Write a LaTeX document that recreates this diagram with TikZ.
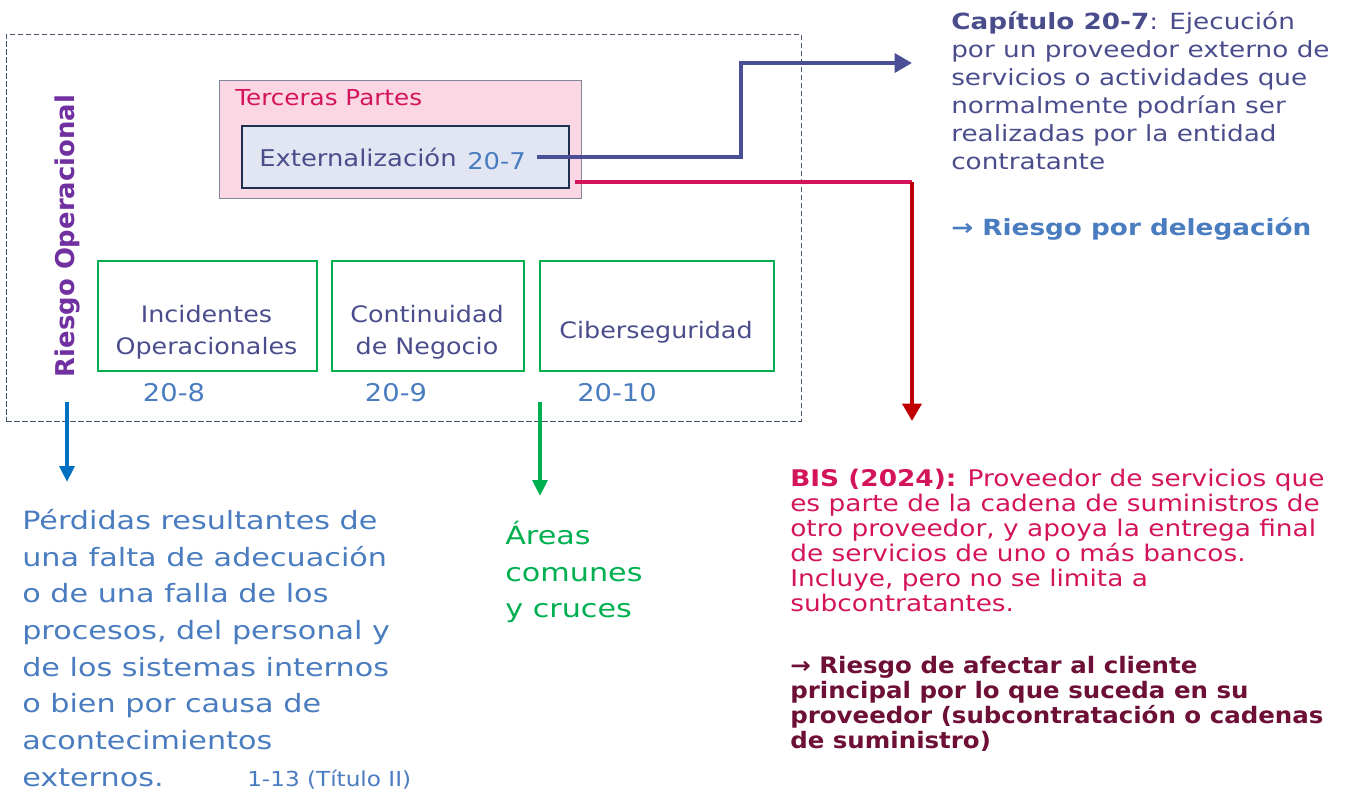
\documentclass[tikz,border=0pt]{standalone}
\usepackage{fontspec}
\setmainfont{DejaVu Sans}
\newfontfamily\fTR[FakeStretch=1.18]{DejaVu Sans}
\newfontfamily\fLeft[FakeStretch=1.2]{DejaVu Sans}
\newfontfamily\fBis[FakeStretch=1.15]{DejaVu Sans}
\newfontfamily\fMar[FakeStretch=1.08]{DejaVu Sans}
\newfontfamily\fBox[FakeStretch=1.12]{DejaVu Sans}
\usetikzlibrary{arrows.meta}
\definecolor{dashc}{HTML}{44546A}
\definecolor{pinkfill}{HTML}{FBD7E4}
\definecolor{pinkborder}{HTML}{7F8699}
\definecolor{crimson}{HTML}{D4145A}
\definecolor{extfill}{HTML}{E1E6F2}
\definecolor{extborder}{HTML}{1F2F4F}
\definecolor{slate}{HTML}{4A4D8C}
\definecolor{numblue}{HTML}{4A7CC0}
\definecolor{arrpurple}{HTML}{4B4F96}
\definecolor{darkred}{HTML}{C00000}
\definecolor{grn}{HTML}{00B050}
\definecolor{purp}{HTML}{7030A0}
\definecolor{arrblue}{HTML}{0070C0}
\definecolor{maroon}{HTML}{6D0F36}
\tikzset{
  greenbox/.style={draw=grn, line width=1.5pt, inner sep=0pt, anchor=north west, minimum height=82.5pt},
  boxtext/.style={font=\fBox\fontsize{17}{24}\selectfont, text=slate, align=center, inner sep=0pt},
  numtext/.style={font=\fBox\fontsize{18.3}{24}\selectfont, text=numblue, inner sep=0pt},
  thickarrow/.style={line width=3.6pt, -{Triangle[length=13pt,width=14pt]}},
  thinarrow/.style={line width=3.4pt, -{Triangle[length=12pt,width=11pt]}},
}
\begin{document}
\begin{tikzpicture}[x=0.75pt,y=-0.75pt]
\useasboundingbox (0,0) rectangle (1348,794);
% outer dashed frame
\node (outer) [draw=dashc, dash pattern=on 4pt off 2pt, line width=0.6pt, inner sep=0pt, anchor=north west,
  minimum width=596.25pt, minimum height=290.25pt] at (6,34) {};
% Terceras partes
\node (terc) [draw=pinkborder, fill=pinkfill, line width=0.9pt, inner sep=0pt, anchor=north west,
  minimum width=271.5pt, minimum height=88.5pt] at (219,80) {};
\node (tercl) [font=\fBox\fontsize{16.5}{20}\selectfont, text=crimson, anchor=west, inner sep=0pt] at (235,98) {Terceras Partes};
% Externalizacion
\node (ext) [draw=extborder, fill=extfill, line width=1.6pt, inner sep=0pt, anchor=north west,
  minimum width=245.25pt, minimum height=46.5pt] at (241,125) {};
\node (extl) [font=\fBox\fontsize{17.3}{20}\selectfont, text=slate, anchor=west, inner sep=0pt] at (259,157) {Externalización};
\node (n207) [numtext, font=\fBox\fontsize{17.3}{20}\selectfont, anchor=west] at (467,161) {20-7};
% green boxes
\node (b1) [greenbox, minimum width=164.25pt] at (97,260) {};
\node (b2) [greenbox, minimum width=144pt] at (331,260) {};
\node (b3) [greenbox, minimum width=175.5pt] at (539,260) {};
\node (t1) [boxtext] at (206.5,332) {Incidentes\\Operacionales};
\node (t2) [boxtext] at (427,332) {Continuidad\\de Negocio};
\node (t3) [boxtext] at (656,332) {Ciberseguridad};
\node (n8) [numtext] at (174,393) {20-8};
\node (n9) [numtext] at (396,393) {20-9};
\node (n10) [numtext] at (617,393) {20-10};
% Riesgo Operacional
\node (riesgo) [rotate=90, font=\bfseries\fontsize{19.4}{20}\selectfont, text=purp, inner sep=0pt] at (67,236) {Riesgo Operacional};
% coordinates for connectors
\coordinate (p0) at (537,157);
\coordinate (p1) at (741,157);
\coordinate (p2) at (741,63);
\coordinate (p3) at (912,63);
\coordinate (q0) at (575,182);
\coordinate (q1) at (912,182);
\coordinate (q2) at (912,421);
\coordinate (r0) at (67,402);
\coordinate (r1) at (67,482);
\coordinate (g0) at (540,402);
\coordinate (g1) at (540,496);
\draw[arrpurple, thickarrow] (p0) -- (p1) -- (p2) -- (p3);
\draw[crimson, line width=3.6pt] (q0) -- (q1);
\draw[darkred, thickarrow] (q1) -- (q2);
\draw[arrblue, thinarrow] (r0) -- (r1);
\draw[grn, thinarrow] (g0) -- (g1);
% top right text
\node (cap) [anchor=north west, inner sep=0pt, align=left, text=slate, font=\fTR\fontsize{16.7}{21}\selectfont] at (951,11)
  {\textbf{Capítulo 20-7}: Ejecución\\por un proveedor externo de\\servicios o actividades que\\normalmente podrían ser\\realizadas por la entidad\\contratante};
\node (deleg) [anchor=west, inner sep=0pt, text=numblue, font=\fTR\bfseries\fontsize{16.7}{21}\selectfont] at (951,229) {→ Riesgo por delegación};
% left text
\node (perd) [anchor=north west, inner sep=0pt, align=left, text=numblue, font=\fLeft\fontsize{18.9}{27.5}\selectfont] at (22,509)
  {Pérdidas resultantes de\\una falta de adecuación\\o de una falla de los\\procesos, del personal y\\de los sistemas internos\\o bien por causa de\\acontecimientos\\externos.};
\node (tit) [anchor=west, inner sep=0pt, text=numblue, font=\fBox\fontsize{15.5}{18}\selectfont] at (247,780) {1-13 (Título II)};
% green text
\node (areas) [anchor=north west, inner sep=0pt, align=left, text=grn, font=\fLeft\fontsize{18.9}{27.5}\selectfont] at (505,521)
  {Áreas\\comunes\\y cruces};
% BIS text
\node (bis) [anchor=north west, inner sep=0pt, align=left, text=crimson, font=\fBis\fontsize{17.2}{18.65}\selectfont] at (790,469)
  {\textbf{BIS (2024):} Proveedor de servicios que\\es parte de la cadena de suministros de\\otro proveedor, y apoya la entrega final\\de servicios de uno o más bancos.\\Incluye, pero no se limita a\\subcontratantes.};
\node (afect) [anchor=north west, inner sep=0pt, align=left, text=maroon, font=\fMar\bfseries\fontsize{17}{18.75}\selectfont] at (790,656)
  {→ Riesgo de afectar al cliente\\principal por lo que suceda en su\\proveedor (subcontratación o cadenas\\de suministro)};
\end{tikzpicture}
\end{document}
